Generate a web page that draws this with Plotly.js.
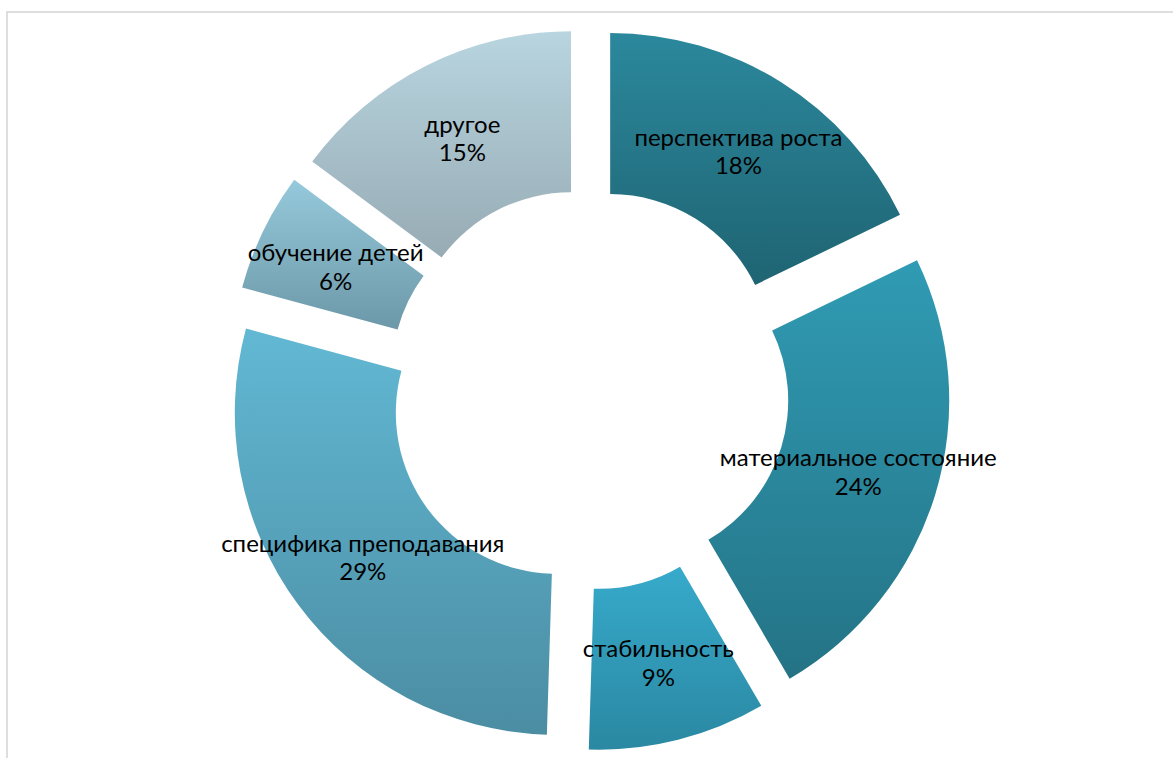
<!DOCTYPE html>
<html>
<head>
<meta charset="utf-8">
<script src="https://cdn.plot.ly/plotly-3.0.1.min.js"></script>
<style>
  html, body { margin: 0; padding: 0; background: #ffffff; }
  #wrap { position: relative; width: 1173px; height: 758px; overflow: hidden; }
  #chart { position: absolute; left: 0; top: 0; width: 1173px; height: 758px; }
  #frame { position: absolute; left: 6px; top: 11px; width: 1200px; height: 800px;
           border-left: 2px solid #dedede; border-top: 2px solid #dedede; pointer-events: none; }
</style>
</head>
<body>
<div id="wrap">
  <div id="chart"></div>
  <div id="frame"></div>
</div>
<script>
// Data
const categories = ["перспектива роста", "материальное состояние", "стабильность",
                    "специфика преподавания", "обучение детей", "другое"];
const values = [18, 24, 9, 29, 6, 15];

// Styling (gradient top -> bottom per slice)
const gradTop    = ["#2b889c", "#309bb4", "#37aacb", "#62b8d3", "#95c9db", "#b8d5e0"];
const gradBottom = ["#1f6473", "#247385", "#2a88a2", "#4b8da3", "#6c98a8", "#97abb4"];
const midColors  = ["#257688", "#2a879c", "#3099b6", "#56a3bb", "#80b0c1", "#a7c0ca"];
const HOLE = 0.5;
const PULL = 0.124;

const trace = {
  type: "pie",
  labels: categories,
  values: values,
  sort: false,
  direction: "clockwise",
  rotation: 0,
  hole: HOLE,
  pull: values.map(() => PULL),
  marker: { colors: midColors, line: { width: 0 } },
  texttemplate: "%{label}<br>%{percent:.0%}",
  textposition: "inside",
  insidetextorientation: "horizontal",
  textfont: { family: "Lato, 'Open Sans', sans-serif", size: 24, color: "#000000" },
  hoverinfo: "label+percent",
  showlegend: false,
  domain: { x: [0.1021, 0.9021], y: [0.00923, 0.9644] }
};

const layout = {
  width: 1173,
  height: 758,
  margin: { l: 0, r: 0, t: 0, b: 0 },
  paper_bgcolor: "#ffffff",
  plot_bgcolor: "#ffffff",
  showlegend: false,
  font: { family: "Lato, 'Open Sans', sans-serif", color: "#000000" }
};

Plotly.newPlot("chart", [trace], layout, { staticPlot: true, displayModeBar: false }).then(function (gd) {
  const svg = gd.querySelector("svg.main-svg");
  const ns = "http://www.w3.org/2000/svg";
  let defs = svg.querySelector("defs");
  if (!defs) { defs = document.createElementNS(ns, "defs"); svg.insertBefore(defs, svg.firstChild); }
  gradTop.forEach(function (c, i) {
    const lg = document.createElementNS(ns, "linearGradient");
    lg.setAttribute("id", "sliceGrad" + i);
    lg.setAttribute("x1", "0"); lg.setAttribute("y1", "0");
    lg.setAttribute("x2", "0"); lg.setAttribute("y2", "1");
    const s1 = document.createElementNS(ns, "stop");
    s1.setAttribute("offset", "0"); s1.setAttribute("stop-color", c);
    const s2 = document.createElementNS(ns, "stop");
    s2.setAttribute("offset", "1"); s2.setAttribute("stop-color", gradBottom[i]);
    lg.appendChild(s1); lg.appendChild(s2);
    defs.appendChild(lg);
  });
  const sliceGroups = gd.querySelectorAll("g.slice");
  const cd = gd.calcdata && gd.calcdata[0];
  sliceGroups.forEach(function (g, i) {
    const p = g.querySelector("path.surface");
    if (p) p.style.fill = "url(#sliceGrad" + i + ")";
    const t = g.querySelector("text.slicetext");
    if (t && cd && cd[0]) {
      const pt = (g.__data__ && g.__data__.pxmid) ? g.__data__ : cd[i];
      const cd0 = cd[0];
      t.querySelectorAll("tspan.line").forEach(function (ts, j) {
        if (j > 0) ts.setAttribute("dy", "1.2em");
      });
      const k = PULL + (1 + HOLE) / 2;
      const tx = cd0.cx + pt.pxmid[0] * k;
      const ty = cd0.cy + pt.pxmid[1] * k;
      t.setAttribute("transform", "");
      const bb = t.getBBox();
      t.setAttribute("transform",
        "translate(" + (tx - (bb.x + bb.width / 2)) + "," + (ty - (bb.y + bb.height / 2)) + ")");
    }
  });
});
</script>
</body>
</html>
